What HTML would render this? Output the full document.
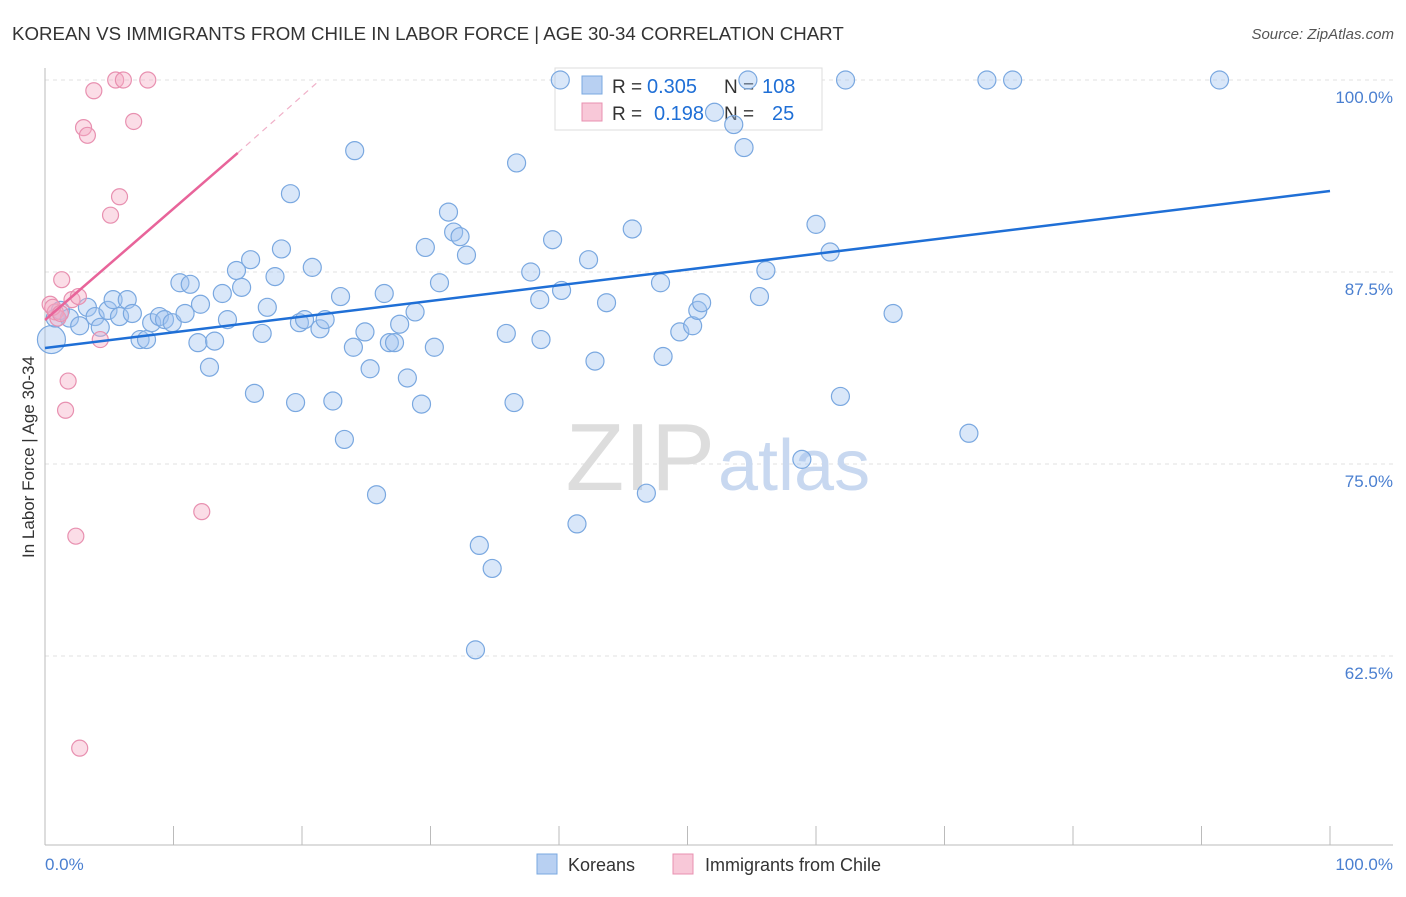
<!DOCTYPE html>
<html><head><meta charset="utf-8"><style>
body{margin:0;background:#fff;font-family:"Liberation Sans",sans-serif}
svg text{font-family:"Liberation Sans",sans-serif}
</style></head><body>
<svg width="1406" height="892">
<text x="12" y="40" font-size="18.7" fill="#333">KOREAN VS IMMIGRANTS FROM CHILE IN LABOR FORCE | AGE 30-34 CORRELATION CHART</text>
<text x="1394" y="39" font-size="15" fill="#555" font-style="italic" text-anchor="end">Source: ZipAtlas.com</text>
<g id="grid"></g>
<text x="715" y="490" font-size="96" fill="#ddd" text-anchor="end" font-family="Liberation Serif">ZIP</text>
<text x="718" y="490" font-size="72" fill="#c8d8f0">atlas</text>
<g>
<rect x="555" y="68" width="267" height="62" fill="#fff" stroke="#ddd"/>
<rect x="582" y="76" width="20" height="18" fill="#b8d0f2" stroke="#7aa8e0"/>
<rect x="582" y="103" width="20" height="18" fill="#f8c8d8" stroke="#e890b0"/>
<text x="612" y="93" font-size="19" fill="#333">R =</text>
<text x="647" y="93" font-size="20" fill="#1f6fd6">0.305</text>
<text x="724" y="93" font-size="19" fill="#333">N =</text>
<text x="762" y="93" font-size="20" fill="#1f6fd6">108</text>
<text x="612" y="120" font-size="19" fill="#333">R =</text>
<text x="654" y="120" font-size="20" fill="#1f6fd6">0.198</text>
<text x="724" y="120" font-size="19" fill="#333">N =</text>
<text x="772" y="120" font-size="20" fill="#1f6fd6">25</text>
</g>
<g id="points"></g>
<g id="trends"></g>
<text transform="translate(34,457) rotate(-90)" font-size="17" fill="#333" text-anchor="middle">In Labor Force | Age 30-34</text>
<text x="45" y="870" font-size="17" fill="#4a7fd0">0.0%</text>
<text x="1393" y="870" font-size="17" fill="#4a7fd0" text-anchor="end">100.0%</text>
<g>
<rect x="537" y="854" width="20" height="20" fill="#b8d0f2" stroke="#7aa8e0"/>
<text x="568" y="871" font-size="18" fill="#333">Koreans</text>
<rect x="673" y="854" width="20" height="20" fill="#f8c8d8" stroke="#e890b0"/>
<text x="705" y="871" font-size="18" fill="#333">Immigrants from Chile</text>
</g>
</svg>
<script>
const yTicks=[100,87.5,75,62.5];
const yTickLabels=["100.0%","87.5%","75.0%","62.5%"];
const xTicks=[0,10,20,30,40,50,60,70,80,90,100];
const koreans=[[0.5,83.1],[0.8,84.5],[1.2,85.0],[1.9,84.5],[2.7,84.0],[3.3,85.2],[3.9,84.6],[4.3,83.9],[4.9,85.0],[5.3,85.7],[5.8,84.6],[6.4,85.7],[6.8,84.8],[7.4,83.1],[7.9,83.1],[8.3,84.2],[8.9,84.6],[9.3,84.4],[9.9,84.2],[10.5,86.8],[10.9,84.8],[11.3,86.7],[11.9,82.9],[12.1,85.4],[12.8,81.3],[13.2,83.0],[13.8,86.1],[14.2,84.4],[14.9,87.6],[15.3,86.5],[16.0,88.3],[16.3,79.6],[16.9,83.5],[17.3,85.2],[17.9,87.2],[18.4,89.0],[19.1,92.6],[19.5,79.0],[19.8,84.2],[20.2,84.4],[20.8,87.8],[21.4,83.8],[21.8,84.4],[22.4,79.1],[23.0,85.9],[23.3,76.6],[24.0,82.6],[24.1,95.4],[24.9,83.6],[25.3,81.2],[25.8,73.0],[26.4,86.1],[26.8,82.9],[27.2,82.9],[27.6,84.1],[28.2,80.6],[28.8,84.9],[29.3,78.9],[29.6,89.1],[30.3,82.6],[30.7,86.8],[31.4,91.4],[31.8,90.1],[32.3,89.8],[32.8,88.6],[33.8,69.7],[33.5,62.9],[34.8,68.2],[35.9,83.5],[36.5,79.0],[36.7,94.6],[37.8,87.5],[38.5,85.7],[38.6,83.1],[39.5,89.6],[40.1,100],[40.2,86.3],[41.4,71.1],[42.3,88.3],[42.8,81.7],[43.7,85.5],[45.7,90.3],[46.8,73.1],[47.9,86.8],[48.1,82.0],[49.4,83.6],[50.4,84.0],[50.8,85.0],[51.1,85.5],[52.1,97.9],[53.6,97.1],[54.4,95.6],[54.7,100],[55.6,85.9],[56.1,87.6],[58.9,75.3],[60.0,90.6],[61.1,88.8],[61.9,79.4],[62.3,100],[66.0,84.8],[71.9,77.0],[73.3,100],[75.3,100],[91.4,100]];
const chile=[[0.4,85.4],[0.8,84.9],[1.0,84.5],[1.3,87.0],[1.8,80.4],[1.6,78.5],[2.1,85.7],[2.4,70.3],[2.6,85.9],[2.7,56.5],[3.0,96.9],[3.3,96.4],[3.8,99.3],[4.3,83.1],[5.1,91.2],[5.5,100],[5.8,92.4],[6.1,100],[6.9,97.3],[8.0,100],[12.2,71.9],[0.6,85.2],[1.2,84.8]];
const koreanTrend=[[0,82.55],[100,92.77]];
const chileTrend=[[0,84.375],[15,95.25],[21.4,100]];
const NS="http://www.w3.org/2000/svg";
const X=v=>45+v*12.85, Y=v=>80+(100-v)*15.36;
function mk(t,a,p){const e=document.createElementNS(NS,t);for(const k in a)e.setAttribute(k,a[k]);p.appendChild(e);return e;}
const grid=document.getElementById('grid');
yTicks.forEach((t,i)=>{
 const l=mk('line',{x1:45,x2:1393,y1:Y(t),y2:Y(t),stroke:'#e2e2e2','stroke-dasharray':'4,4'},grid);
 
 
 const tx=mk('text',{x:1393,y:Y(t)+23,'font-size':17,fill:'#4a7fd0','text-anchor':'end'},grid);
 tx.textContent=yTickLabels[i];
 
 
});
const ax=mk('line',{x1:45,x2:45,y1:68,y2:845,stroke:'#bbb'},grid);


const bx=mk('line',{x1:45,x2:1393,y1:845,y2:845,stroke:'#bbb'},grid);


xTicks.forEach(t=>{const l=mk('line',{x1:X(t),x2:X(t),y1:826,y2:845,stroke:'#bbb'},grid);
 
 });
const pts=document.getElementById('points');
koreans.forEach((d,i)=>{const c=mk('circle',{cx:X(d[0]),cy:Y(d[1]),r:i==0?14:9,fill:'rgba(160,195,240,0.4)',stroke:'#7aa8e0','stroke-width':1.2},pts);
 
 });
chile.forEach(d=>{const c=mk('circle',{cx:X(d[0]),cy:Y(d[1]),r:8,fill:'rgba(245,170,195,0.4)',stroke:'#e890b0','stroke-width':1.2},pts);
 
 });
const tr=document.getElementById('trends');
const kt=mk('line',{x1:X(koreanTrend[0][0]),y1:Y(koreanTrend[0][1]),x2:X(koreanTrend[1][0]),y2:Y(koreanTrend[1][1]),stroke:'#1f6fd6','stroke-width':2.5},tr);


const ct=mk('line',{x1:X(chileTrend[0][0]),y1:Y(chileTrend[0][1]),x2:X(chileTrend[1][0]),y2:Y(chileTrend[1][1]),stroke:'#e8649a','stroke-width':2.5},tr);


const cd=mk('line',{x1:X(chileTrend[1][0]),y1:Y(chileTrend[1][1]),x2:X(chileTrend[2][0]),y2:Y(chileTrend[2][1]),stroke:'#f0b0c8','stroke-width':1.2,'stroke-dasharray':'6,5'},tr);


</script>
</body></html>
